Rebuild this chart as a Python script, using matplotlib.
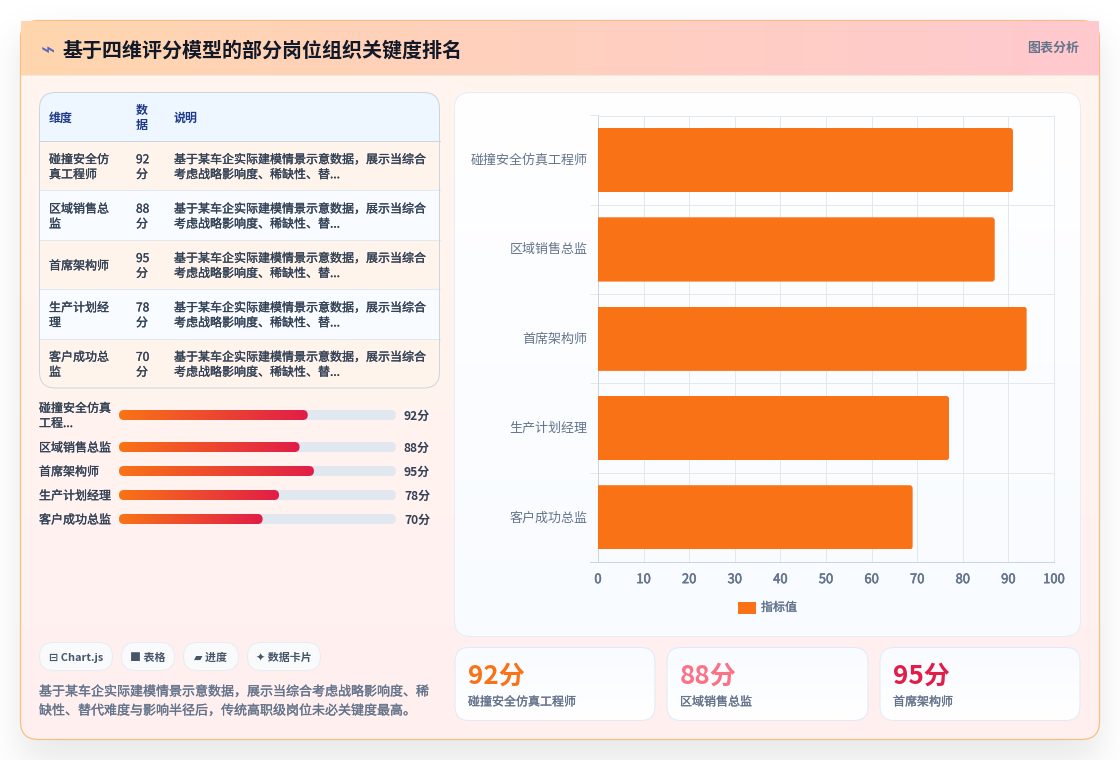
import math

import numpy as np
import matplotlib
matplotlib.use("Agg")
import matplotlib.pyplot as plt
import matplotlib.patheffects as pe
from matplotlib.colors import to_rgb
from matplotlib.patches import FancyBboxPatch, Rectangle
from matplotlib.transforms import IdentityTransform, ScaledTranslation

plt.rcParams["font.family"] = ["Noto Sans CJK SC", "DejaVu Sans"]

# Data
title = "基于四维评分模型的部分岗位组织关键度排名"
header_tag = "图表分析"
positions = ["碰撞安全仿真工程师", "区域销售总监", "首席架构师", "生产计划经理", "客户成功总监"]
scores = [92, 88, 95, 78, 70]
chart_values = [91, 87, 94, 77, 69]
x_ticks = [0, 10, 20, 30, 40, 50, 60, 70, 80, 90, 100]
legend_label = "指标值"
table_headers = ["维度", "数\n据", "说明"]
table_names = ["碰撞安全仿\n真工程师", "区域销售总\n监", "首席架构师", "生产计划经\n理", "客户成功总\n监"]
table_note = "基于某车企实际建模情景示意数据，展示当综合\n考虑战略影响度、稀缺性、替..."
progress_names = ["碰撞安全仿真\n工程...", "区域销售总监", "首席架构师", "生产计划经理", "客户成功总监"]
progress_max = 135
pill_labels = ["⊟ Chart.js", "■ 表格", "▰ 进度", "✦ 数据卡片"]
summary = "基于某车企实际建模情景示意数据，展示当综合考虑战略影响度、稀\n缺性、替代难度与影响半径后，传统高职级岗位未必关键度最高。"
card_colors = ["#f97316", "#fb7185", "#e11d48"]

W, H = 1120, 760
ORANGE = "#f97316"
RED = "#e11d48"
GRID = "#e2e8f0"
AXIS = "#cbd5e1"
SLATE = "#64748b"
DARK = "#334155"
LINE = 0.72  # one css pixel in points


def px(size):
    # css pixels to points at dpi 100
    return size * 0.72


def semibold(color, width=0.2):
    # the family has no medium weight here, so thicken the regular one a little
    return [pe.withStroke(linewidth=width, foreground=color)]


fig = plt.figure(figsize=(W / 100, H / 100), dpi=100, facecolor="white")
bg = fig.add_axes([0, 0, 1, 1], zorder=0)
bg.set_xlim(0, W)
bg.set_ylim(H, 0)
bg.axis("off")
bg.autoscale(False)


def rbox(ax, x0, y0, x1, y1, r, fc="none", ec="none", lw=LINE, z=2, aspect=1.0):
    patch = FancyBboxPatch((x0, y0), x1 - x0, y1 - y0,
                           boxstyle=f"round,pad=0,rounding_size={r}",
                           mutation_aspect=aspect,
                           fc=fc, ec=ec, lw=lw, zorder=z)
    ax.add_patch(patch)
    return patch


def gradient(ax, x0, y0, x1, y1, c0, c1, clip=None, vertical=False, z=2):
    # two colour linear fill, optionally clipped to a patch
    t = np.linspace(0, 1, 128)
    rgb = np.outer(1 - t, to_rgb(c0)) + np.outer(t, to_rgb(c1))
    img = rgb[:, None, :] if vertical else rgb[None, :, :]
    im = ax.imshow(img, extent=(x0, x1, y1, y0), aspect="auto",
                   interpolation="bilinear", zorder=z)
    if clip is not None:
        im.set_clip_path(clip)
    return im


def label(x, y, text, size, color, weight="normal", ha="left", thick=False, spacing=1.2):
    t = bg.text(x, y, text, fontsize=px(size), fontweight=weight, color=color,
                va="center", ha=ha, linespacing=spacing, zorder=4)
    if thick:
        t.set_path_effects(semibold(color))
    return t


# soft drop shadow under the main card
erf = np.vectorize(math.erf)
gx = np.arange(W) + 0.5
gy = np.arange(H) + 0.5
sig = 18
prof_x = 0.5 * (erf((gx - 20) / sig / 1.414) - erf((gx - 1100) / sig / 1.414))
prof_y = 0.5 * (erf((gy - 34) / sig / 1.414) - erf((gy - 762) / sig / 1.414))
shadow = np.zeros((H, W, 4))
shadow[..., :3] = 0.06
shadow[..., 3] = 0.095 * np.outer(prof_y, prof_x)
bg.imshow(shadow, extent=(0, W, H, 0), aspect="auto", zorder=1)

# main card
card = rbox(bg, 20.5, 20.5, 1099.5, 739.5, 18, fc="#fff6ee", z=2)
inner = rbox(bg, 21, 21, 1099, 739, 18, fc="none", z=2)
gradient(bg, 21, 75, 1099, 739, "#fff6ee", "#fff0f0", clip=inner, vertical=True, z=2.1)
rbox(bg, 20.5, 20.5, 1099.5, 739.5, 18, ec="#f6bd84", lw=LINE * 1.2, z=2.2)

# header strip
gradient(bg, 21, 21, 1099, 75, "#ffd6ae", "#ffc9cf", z=3)
bg.add_patch(Rectangle((21, 75), 1078, 1, fc="#f5e6e0", ec="none", zorder=3))
bg.text(41, 50, "⌁", fontsize=px(24), color="#5a68b8", family="DejaVu Sans",
        va="center", ha="left", zorder=4)
label(63, 49.5, title, 20, "#111827", weight="bold")
label(1079, 48, header_tag, 13, SLATE, weight="bold", ha="right")

# table
TX0, TX1 = 39.5, 439.5
TY0, TY1 = 92.5, 388
head_bottom = 141
row_h = (TY1 - head_bottom) / len(positions)
col_x = [49, 136, 174]
table_clip = rbox(bg, TX0, TY0, TX1, TY1, 16, fc="white", z=3)
head = Rectangle((TX0, TY0), TX1 - TX0, head_bottom - TY0, fc="#eef6ff", ec="none", zorder=3.1)
bg.add_patch(head)
head.set_clip_path(table_clip)
for cx, text in zip(col_x, table_headers):
    label(cx, (TY0 + head_bottom) / 2 + 1.5, text, 12, "#1e3a8a", weight="bold")
for i, (name, score) in enumerate(zip(table_names, scores)):
    top = head_bottom + i * row_h
    row = Rectangle((TX0, top), TX1 - TX0, row_h,
                    fc="#fff4ec" if i % 2 == 0 else "#f8fbff", ec="none", zorder=3.1)
    bg.add_patch(row)
    row.set_clip_path(table_clip)
    if i:
        bg.plot([TX0, TX1], [top, top], color=GRID, lw=LINE, zorder=3.2)
    mid = top + row_h / 2 + 1.5
    for cx, text in zip(col_x, [name, f"{score}\n分", table_note]):
        label(cx, mid, text, 12, DARK, thick=True)
bg.plot([TX0, TX1], [head_bottom, head_bottom], color=AXIS, lw=LINE, zorder=3.2)
rbox(bg, TX0, TY0, TX1, TY1, 16, ec=AXIS, lw=LINE, z=3.5)

# progress rows
bar_mid = [415, 447, 471, 495, 519]
prog = fig.add_axes([119 / W, 1 - 530 / H, 277 / W, 130 / H], zorder=1)
prog.set_xlim(0, progress_max)
prog.set_ylim(530, 400)
prog.axis("off")
prog.autoscale(False)
aspect = 277 / progress_max
for name, score, mid in zip(progress_names, scores, bar_mid):
    rbox(prog, 0, mid - 5, progress_max, mid + 5, 5 / aspect, fc=GRID, z=2, aspect=aspect)
    fill = rbox(prog, 0, mid - 5, score, mid + 5, 5 / aspect, fc="none", z=3, aspect=aspect)
    gradient(prog, 0, mid - 5, score, mid + 5, ORANGE, RED, clip=fill, z=3)
    label(39, mid + 1, name, 12, DARK, thick=True)
    label(404, mid + 1, f"{score}分", 12, DARK, weight="bold")

# pills and summary
pill_x = [(39.5, 112.5), (121.5, 174.5), (183.5, 238.5), (247.5, 320.5)]
for (x0, x1), text in zip(pill_x, pill_labels):
    rbox(bg, x0, 642.5, x1, 670.5, 14, fc="#f8fafc", ec="#e7edf3", z=3)
    label((x0 + x1) / 2, 658, text, 11, "#475569", weight="bold", ha="center")
label(39, 701.5, summary, 13, SLATE, thick=True, spacing=1.6)

# chart panel
panel = rbox(bg, 454.5, 92.5, 1080.5, 636.5, 16, fc="white", z=3)
gradient(bg, 454.5, 92.5, 1080.5, 636.5, "#ffffff", "#f8fbff", clip=panel, vertical=True, z=3.1)
rbox(bg, 454.5, 92.5, 1080.5, 636.5, 16, ec="#e7edf5", z=3.2)

# horizontal bar chart
AX0, AX1 = 598.0, 1054.0
AY0, AY1 = 115.5, 562.0
ax = fig.add_axes([AX0 / W, 1 - AY1 / H, (AX1 - AX0) / W, (AY1 - AY0) / H], zorder=2)
ax.patch.set_alpha(0)
y_pos = np.arange(len(positions))
bars = ax.barh(y_pos, chart_values, height=0.72, color=ORANGE, zorder=3, label=legend_label)
ax.set_xlim(0, 100)
ax.set_ylim(len(positions) - 0.5, -0.5)
ax.set_xticks(x_ticks)
ax.set_yticks(y_pos)
ax.set_yticklabels(positions)
ax.set_yticks(np.arange(len(positions) + 1) - 0.5, minor=True)
ax.tick_params(axis="y", which="major", length=0, pad=7.5, labelsize=px(13), labelcolor=SLATE)
ax.tick_params(axis="y", which="minor", length=6, width=LINE, color=GRID)
ax.tick_params(axis="x", length=0, pad=8, labelsize=px(13), labelcolor=SLATE)
for tick in ax.get_xticklabels():
    tick.set_path_effects(semibold(SLATE, 0.4))
lift = ScaledTranslation(0, 1 / 100, fig.dpi_scale_trans)
for tick in ax.get_yticklabels():
    tick.set_transform(tick.get_transform() + lift)
ax.grid(axis="x", color=GRID, lw=LINE)
ax.grid(axis="y", which="minor", color=GRID, lw=LINE)
ax.set_axisbelow(True)
for side in ["top", "right"]:
    ax.spines[side].set_color(GRID)
    ax.spines[side].set_linewidth(LINE)
for side in ["left", "bottom"]:
    ax.spines[side].set_color(AXIS)
    ax.spines[side].set_linewidth(LINE)
ax.plot([-1.8, 0], [len(positions) - 0.5] * 2, color=AXIS, lw=LINE, clip_on=False, zorder=2)

# round the far corners of each bar
fig.canvas.draw()
for bar in bars:
    (bx0, by0), (bx1, by1) = ax.transData.transform(
        [(bar.get_x(), bar.get_y()), (bar.get_x() + bar.get_width(), bar.get_y() + bar.get_height())])
    low, high = sorted([by0, by1])
    mask = FancyBboxPatch((bx0 - 10, low), bx1 - bx0 + 10, high - low,
                          boxstyle="round,pad=0,rounding_size=3", transform=IdentityTransform())
    bar.set_clip_path(mask)

# legend
bg.add_patch(Rectangle((737.5, 601.5), 18, 12.5, fc=ORANGE, ec="none", zorder=4))
label(761, 607.5, legend_label, 12, SLATE, thick=True)

# stat cards
card_x = [(455, 655), (667, 868), (880, 1080)]
for (x0, x1), score, name, col in zip(card_x, scores, positions, card_colors):
    box = rbox(bg, x0, 647.5, x1, 720.5, 14, fc="white", z=3)
    gradient(bg, x0, 647.5, x1, 720.5, "#f8fbff", "#ffffff", clip=box, vertical=True, z=3.1)
    rbox(bg, x0, 647.5, x1, 720.5, 14, ec="#e3e9f5", z=3.2)
    label(x0 + 13, 676, f"{score}分", 26, col, weight="bold")
    label(x0 + 13, 702, name, 12, SLATE, thick=True)

fig.savefig("out.png", dpi=100)
